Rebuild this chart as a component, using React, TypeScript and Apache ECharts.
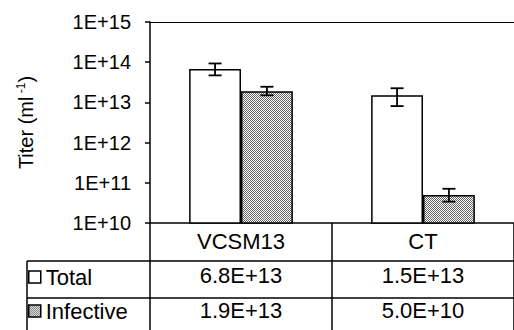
import React, { useEffect, useRef } from "react";
import * as echarts from "echarts";

const categories = ["VCSM13", "CT"];
const seriesNames = ["Total", "Infective"];
const totalValues = [6.8e13, 1.5e13];
const infectiveValues = [1.9e13, 5.0e10];
const totalErrLow = [4.7e13, 8.1e12];
const totalErrHigh = [9.3e13, 2.25e13];
const infectiveErrLow = [1.5e13, 3.4e10];
const infectiveErrHigh = [2.45e13, 7.1e10];
const yMin = 1e10;
const yMax = 1e15;

const FONT = "'Liberation Sans', Arial, Helvetica, sans-serif";
const fmt = (v: number) => v.toExponential(1).toUpperCase();
const CAT_GAP = 0.43;

function makePattern() {
  const c = document.createElement("canvas");
  c.width = 2;
  c.height = 2;
  const ctx = c.getContext("2d")!;
  ctx.fillStyle = "#ffffff";
  ctx.fillRect(0, 0, 2, 2);
  ctx.fillStyle = "#666666";
  ctx.fillRect(0, 0, 1, 1);
  ctx.fillRect(1, 1, 1, 1);
  return { image: c, repeat: "repeat", imageWidth: 2, imageHeight: 2 } as any;
}

export default function App() {
  const ref = useRef<HTMLDivElement>(null);
  useEffect(() => {
    if (!ref.current) return;
    const chart = echarts.init(ref.current, undefined, { renderer: "svg" });
    const pattern = makePattern();
    const errData: number[][] = [];
    categories.forEach((_, i) => {
      errData.push([i, totalErrLow[i], totalErrHigh[i], 0]);
      errData.push([i, infectiveErrLow[i], infectiveErrHigh[i], 1]);
    });
    const lineStyle = { color: "#000", width: 1.5 };
    const tableFont = { fontSize: 22, lineHeight: 22, color: "#000", fontFamily: FONT };
    const option: any = {
      animation: false,
      grid: { left: 150, top: 22, width: 367, height: 201, containLabel: false },
      legend: {
        data: seriesNames,
        orient: "vertical",
        left: 28,
        top: 266,
        padding: 0,
        itemWidth: 12,
        itemHeight: 12,
        itemGap: 12,
        icon: "rect",
        itemStyle: { borderColor: "#000", borderWidth: 1.5 },
        textStyle: tableFont,
      },
      xAxis: [
        {
          type: "category",
          data: categories,
          position: "bottom",
          axisLine: { show: true, onZero: false, lineStyle },
          axisTick: { show: true, length: 110, lineStyle },
          axisLabel: { ...tableFont, margin: 7 },
        },
        {
          type: "category",
          data: totalValues.map(fmt),
          position: "bottom",
          offset: 38,
          axisLine: { show: true, onZero: false, lineStyle },
          axisTick: { show: false },
          axisLabel: { ...tableFont, margin: 3 },
        },
        {
          type: "category",
          data: infectiveValues.map(fmt),
          position: "bottom",
          offset: 75,
          axisLine: { show: true, onZero: false, lineStyle },
          axisTick: { show: false },
          axisLabel: { ...tableFont, margin: 1 },
        },
      ],
      yAxis: {
        type: "log",
        logBase: 10,
        min: yMin,
        max: yMax,
        interval: 1,
        name: "{a|Titer (ml}{s| -1}{a|)}",
        nameLocation: "middle",
        nameGap: 114,
        nameTextStyle: {
          rich: {
            a: { fontSize: 20, lineHeight: 21, color: "#000", fontFamily: FONT },
            s: { fontSize: 12, lineHeight: 21, verticalAlign: "top", color: "#000", fontFamily: FONT },
          },
        },
        axisLine: { show: true, lineStyle },
        axisTick: { show: true, length: 5, lineStyle },
        axisLabel: {
          fontSize: 20,
          color: "#000",
          margin: 19,
          fontFamily: FONT,
          formatter: (v: number) => "1E+" + Math.round(Math.log10(v)),
        },
        splitLine: {
          show: true,
          lineStyle: { color: ["none", "none", "none", "none", "none", "#000"], width: 1.2 },
        },
      },
      graphic: [
        { type: "line", shape: { x1: 27, y1: 261, x2: 150, y2: 261 }, style: { stroke: "#000", lineWidth: 1.5 } },
        { type: "line", shape: { x1: 27, y1: 298, x2: 150, y2: 298 }, style: { stroke: "#000", lineWidth: 1.5 } },
        { type: "line", shape: { x1: 27, y1: 261, x2: 27, y2: 331 }, style: { stroke: "#000", lineWidth: 1.5 } },
      ],
      series: [
        {
          name: seriesNames[0],
          type: "bar",
          data: totalValues,
          barGap: "0%",
          barCategoryGap: CAT_GAP * 100 + "%",
          itemStyle: { color: "#fff", borderColor: "#000", borderWidth: 1.5 },
        },
        {
          name: seriesNames[1],
          type: "bar",
          data: infectiveValues,
          barGap: "0%",
          barCategoryGap: CAT_GAP * 100 + "%",
          itemStyle: { color: pattern, borderColor: "#000", borderWidth: 1.5 },
        },
        {
          type: "custom",
          name: "err",
          data: errData,
          encode: { x: 0, y: [1, 2] },
          z: 10,
          renderItem: (params: any, api: any) => {
            const ci = api.value(0);
            const lo = api.value(1);
            const hi = api.value(2);
            const si = api.value(3);
            const p0 = api.coord([ci, lo]);
            const p1 = api.coord([ci, hi]);
            const band = api.coord([1, lo])[0] - api.coord([0, lo])[0];
            const barW = (band * (1 - CAT_GAP)) / 2;
            const x = p0[0] + (si === 0 ? -barW / 2 : barW / 2);
            const hw = 6.5;
            const st = { stroke: "#000", lineWidth: 1.8 };
            return {
              type: "group",
              children: [
                { type: "line", shape: { x1: x, y1: p0[1], x2: x, y2: p1[1] }, style: st },
                { type: "line", shape: { x1: x - hw, y1: p0[1], x2: x + hw, y2: p0[1] }, style: st },
                { type: "line", shape: { x1: x - hw, y1: p1[1], x2: x + hw, y2: p1[1] }, style: st },
              ],
            };
          },
        },
      ],
    };
    chart.setOption(option);
    return () => chart.dispose();
  }, []);
  return (
    <div
      ref={ref}
      style={{ position: "absolute", left: 0, top: 0, width: 514, height: 330, background: "#fff" }}
    />
  );
}
